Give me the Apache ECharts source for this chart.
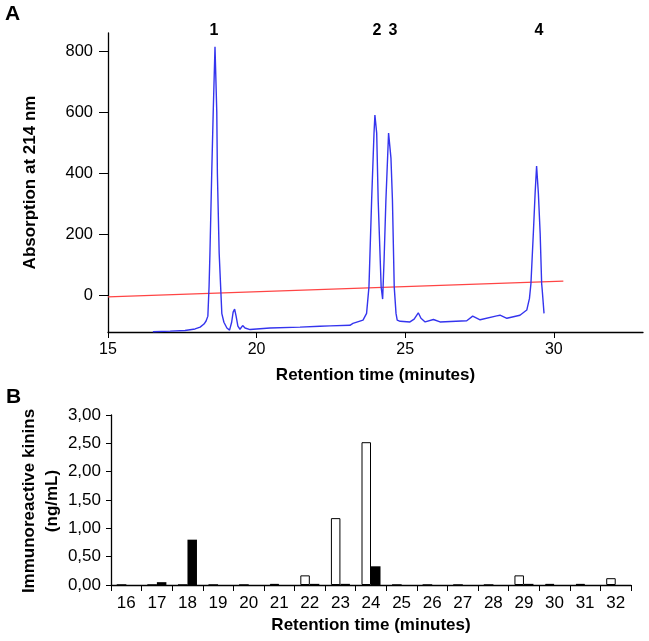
<!DOCTYPE html>
<html>
<head>
<meta charset="utf-8">
<script src="https://cdn.jsdelivr.net/npm/echarts@6/dist/echarts.min.js"></script>
<style>html,body{margin:0;padding:0;background:#fff}#c{width:649px;height:641px}</style>
</head>
<body>
<div id="c"></div>
<script>
// Panel A: chromatogram trace [minutes, absorbance]
const traceTime = [16.51,17.09,17.59,17.93,18.10,18.23,18.30,18.36,18.40,18.43,18.49,18.54,18.60,18.66,18.68,18.74,18.79,18.83,18.90,19.00,19.09,19.16,19.21,19.26,19.31,19.37,19.44,19.53,19.61,19.78,20.45,21.46,22.13,22.47,23.14,23.24,23.58,23.70,23.78,23.87,23.95,23.98,24.04,24.09,24.19,24.24,24.29,24.35,24.44,24.47,24.52,24.57,24.63,24.69,24.73,24.83,25.16,25.30,25.44,25.53,25.67,25.95,26.17,27.07,27.27,27.52,28.08,28.19,28.42,28.86,29.09,29.18,29.23,29.31,29.37,29.42,29.48,29.54,29.59,29.61,29.67];
const traceAbs = [-119,-117,-115,-110,-104,-94,-84,-68,28,139,401,600,815,600,401,139,28,-60,-88,-107,-114,-88,-55,-45,-68,-101,-111,-99,-107,-112,-107,-104,-101,-100,-98,-92,-81,-59,28,312,532,591,532,312,28,-12,120,312,532,536,450,312,28,-59,-81,-85,-87,-78,-57,-75,-87,-79,-87,-83,-68,-80,-67,-65,-75,-65,-48,-10,39,203,334,424,334,203,39,17,-59];
// Red gradient line
const gradTime = [15, 30.32];
const gradVal = [-5, 47];
const yTicksA = [0, 200, 400, 600, 800];
const peakLabels = ['1', '2', '3', '4'];

// Panel B: immunoreactive kinins
const fractions = ['16','17','18','19','20','21','22','23','24','25','26','27','28','29','30','31','32'];
const whiteBars = [0,0,0,0,0,0.02,0.17,1.18,2.52,0,0,0,0,0.17,0.02,0.02,0.12];
const blackBars = [0,0.05,0.80,0,0,0,0.02,0.02,0.33,0,0,0,0,0.02,0,0,0];

const FONT = "'Liberation Sans', Arial, sans-serif";
const chart = echarts.init(document.getElementById('c'), null, {renderer: 'canvas'});

const trace = traceTime.map((t, i) => [t, traceAbs[i]]);
const grad = gradTime.map((t, i) => [t, gradVal[i]]);

const axisLine = {show: true, onZero: false, lineStyle: {color: '#000', width: 1.3}};

chart.setOption({
  animation: false,
  backgroundColor: '#fff',
  textStyle: {fontFamily: FONT},
  grid: [
    {left: 108, top: 33, width: 535, height: 299},
    {left: 111, top: 415, width: 520, height: 170}
  ],
  xAxis: [
    {
      type: 'value', gridIndex: 0, min: 15, max: 33, interval: 5,
      axisLine: axisLine,
      axisTick: {show: true, length: 6, lineStyle: {color: '#000'}},
      axisLabel: {color: '#000', fontSize: 16, fontFamily: FONT, margin: 10, showMaxLabel: false},
      splitLine: {show: false},
      name: 'Retention time (minutes)', nameLocation: 'middle', nameGap: 35,
      nameTextStyle: {color: '#000', fontSize: 17, fontWeight: 'bold', fontFamily: FONT}
    },
    {
      type: 'category', gridIndex: 1, data: fractions,
      axisLine: axisLine,
      axisTick: {show: true, length: 6, lineStyle: {color: '#000'}},
      axisLabel: {color: '#000', fontSize: 17, fontFamily: FONT, margin: 10},
      name: 'Retention time (minutes)', nameLocation: 'middle', nameGap: 32,
      nameTextStyle: {color: '#000', fontSize: 17, fontWeight: 'bold', fontFamily: FONT}
    }
  ],
  yAxis: [
    {
      type: 'value', gridIndex: 0, min: -120, max: 860,
      axisLine: axisLine,
      axisTick: {show: true, length: 9, customValues: yTicksA, lineStyle: {color: '#000'}},
      axisLabel: {color: '#000', fontSize: 16.5, fontFamily: FONT, margin: 15, customValues: yTicksA},
      splitLine: {show: false},
      name: 'Absorption at 214 nm', nameLocation: 'middle', nameGap: 69,
      nameTextStyle: {color: '#000', fontSize: 17, fontWeight: 'bold', fontFamily: FONT}
    },
    {
      type: 'value', gridIndex: 1, min: 0, max: 3, interval: 0.5,
      axisLine: axisLine,
      axisTick: {show: true, length: 5, lineStyle: {color: '#000'}},
      axisLabel: {color: '#000', fontSize: 17, fontFamily: FONT, margin: 10,
        formatter: v => v.toFixed(2).replace('.', ',')},
      splitLine: {show: false}
    }
  ],
  series: [
    {
      type: 'line', xAxisIndex: 0, yAxisIndex: 0, data: grad, symbol: 'none',
      lineStyle: {color: '#ff4545', width: 1.3}, z: 2
    },
    {
      type: 'line', xAxisIndex: 0, yAxisIndex: 0, data: trace, symbol: 'none',
      lineStyle: {color: '#3434ee', width: 1.4}, z: 3
    },
    {
      type: 'bar', xAxisIndex: 1, yAxisIndex: 1, data: whiteBars,
      barWidth: 9.5, barGap: '0%',
      itemStyle: {color: '#fff', borderColor: '#000', borderWidth: 1}
    },
    {
      type: 'bar', xAxisIndex: 1, yAxisIndex: 1, data: blackBars,
      barWidth: 9.5, barGap: '0%',
      itemStyle: {color: '#000', borderWidth: 0}
    }
  ],
  graphic: [
    {type: 'text', left: 5, top: 4, style: {text: 'A', font: "bold 21px 'Liberation Sans', Arial", fill: '#000'}},
    {type: 'text', left: 6, top: 387, style: {text: 'B', font: "bold 21px 'Liberation Sans', Arial", fill: '#000'}},
    {type: 'text', x: 41, y: 501, rotation: Math.PI / 2,
      style: {text: 'Immunoreactive kinins\n(ng/mL)', font: "bold 17px 'Liberation Sans', Arial", fill: '#000',
        align: 'center', verticalAlign: 'middle', lineHeight: 23}},
    {type: 'text', x: 214, y: 31, style: {text: peakLabels[0], font: "bold 16px 'Liberation Sans', Arial", fill: '#000', align: 'center', verticalAlign: 'middle'}},
    {type: 'text', x: 377, y: 31, style: {text: peakLabels[1], font: "bold 16px 'Liberation Sans', Arial", fill: '#000', align: 'center', verticalAlign: 'middle'}},
    {type: 'text', x: 393, y: 31, style: {text: peakLabels[2], font: "bold 16px 'Liberation Sans', Arial", fill: '#000', align: 'center', verticalAlign: 'middle'}},
    {type: 'text', x: 539, y: 31, style: {text: peakLabels[3], font: "bold 16px 'Liberation Sans', Arial", fill: '#000', align: 'center', verticalAlign: 'middle'}}
  ]
});
</script>
</body>
</html>
